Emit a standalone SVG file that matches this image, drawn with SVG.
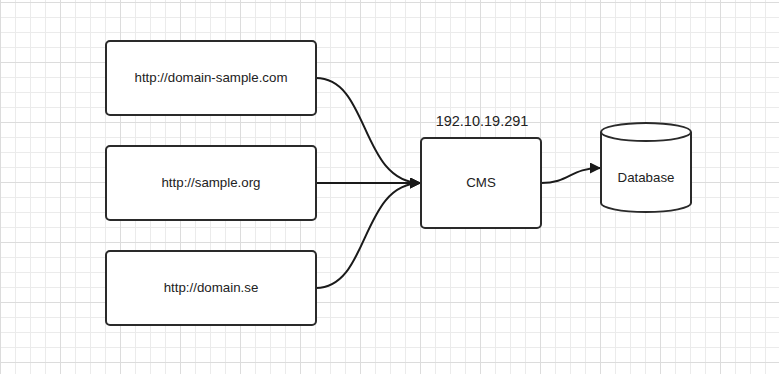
<svg xmlns="http://www.w3.org/2000/svg" width="779" height="374" viewBox="0 0 779 374">
<defs>
<pattern id="grid" patternUnits="userSpaceOnUse" x="0" y="2" width="60" height="60">
<path d="M15.5,0V60M30.5,0V60M45.5,0V60M0,15.5H60M0,30.5H60M0,45.5H60" stroke="#ebebeb" stroke-width="1" fill="none"/>
<path d="M0.5,0V60M0,0.5H60" stroke="#dcdcdc" stroke-width="1" fill="none"/>
</pattern>
<marker id="arr" markerUnits="userSpaceOnUse" markerWidth="12" markerHeight="12" refX="11" refY="5.5" orient="auto" viewBox="0 0 12 12">
<path d="M0,0L11,5.5L0,11z" fill="#1a1a1a"/>
</marker>
</defs>
<style>
.box{fill:#fff;stroke:#2a2a2a;stroke-width:2}
.lbl{font-family:"Liberation Sans",Arial,sans-serif;font-size:13.3px;fill:#222;text-anchor:middle}
.con{fill:none;stroke:#1a1a1a;stroke-width:2;marker-end:url(#arr)}
</style>
<rect width="779" height="374" fill="#fff"/>
<rect width="779" height="374" fill="url(#grid)"/>
<g id="connectors">
<path class="con" d="M316,78C370,78 360,183 421,183"/>
<path class="con" d="M316,183L421,183"/>
<path class="con" d="M316,288C370,288 360,183 421,183"/>
<path class="con" d="M541,183C570,183 570,168 601,168"/>
</g>
<g id="node-domain-sample">
<rect class="box" x="106" y="41" width="210" height="74" rx="4"/>
<text class="lbl" x="211" y="82">http://domain-sample.com</text>
</g>
<g id="node-sample-org">
<rect class="box" x="106" y="146" width="210" height="74" rx="4"/>
<text class="lbl" x="211" y="187">http://sample.org</text>
</g>
<g id="node-domain-se">
<rect class="box" x="106" y="251" width="210" height="74" rx="4"/>
<text class="lbl" x="211" y="292">http://domain.se</text>
</g>
<g id="node-cms">
<rect class="box" x="421" y="138" width="120" height="90" rx="4"/>
<text class="lbl" x="481" y="187">CMS</text>
<text class="lbl" x="482" y="126" style="font-size:14.5px">192.10.19.291</text>
</g>
<g id="node-database">
<path class="box" d="M601,132L601,203A45,9 0 0 0 691,203L691,132A45,9 0 0 0 601,132A45,9 0 0 0 691,132"/>
<text class="lbl" x="646" y="182">Database</text>
</g>
</svg>
